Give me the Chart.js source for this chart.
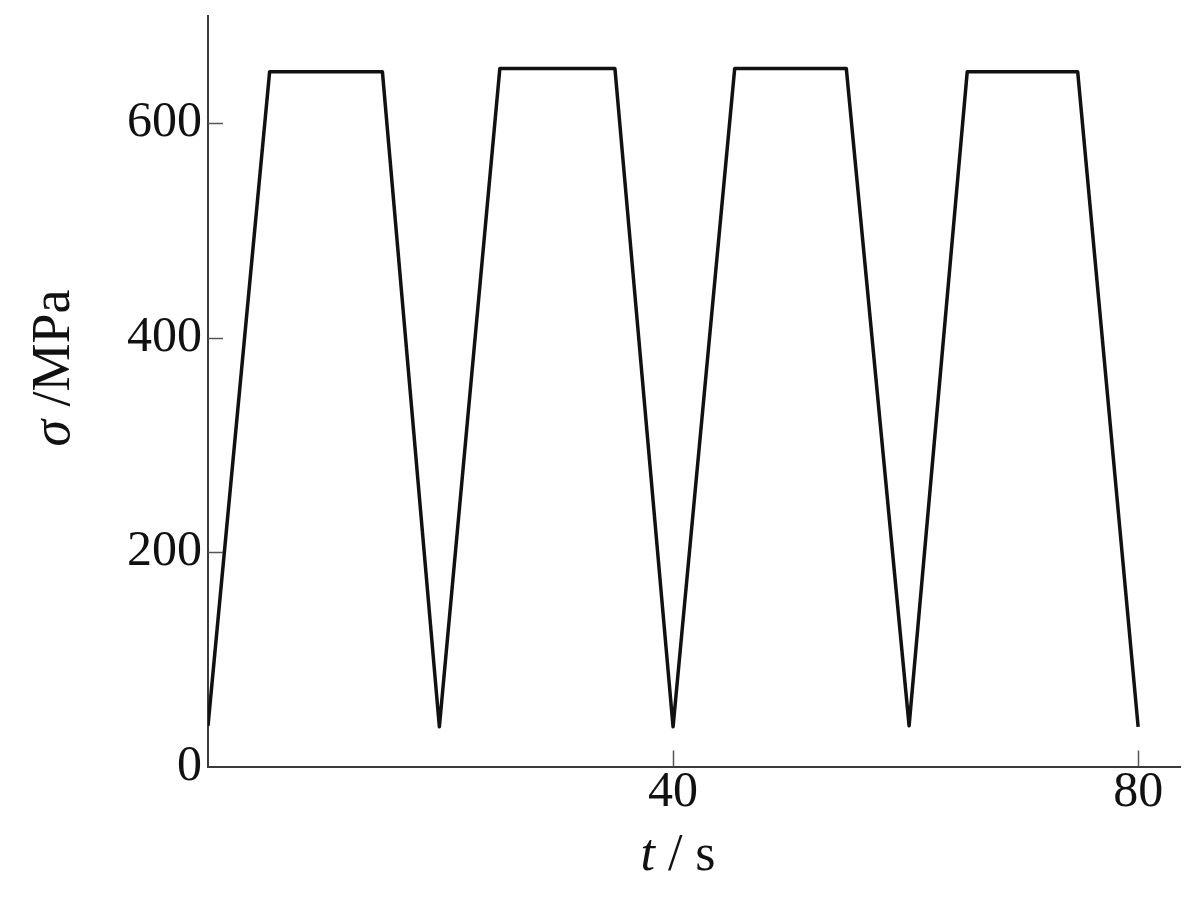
<!DOCTYPE html>
<html>
<head>
<meta charset="utf-8">
<script src="https://cdn.jsdelivr.net/npm/chart.js@4/dist/chart.umd.min.js"></script>
<style>
  html, body { margin: 0; padding: 0; background: #fff; }
  #wrap { width: 1200px; height: 900px; }
</style>
</head>
<body>
<div id="wrap"><canvas id="grafico" width="1200" height="900"></canvas></div>
<script>
// time (s) and stress (MPa)
const tiempos = [0, 5.3, 15, 19.9, 25.1, 35, 40, 45.3, 54.9, 60.3, 65.3, 74.8, 80];
const tensiones = [38, 648, 648, 37, 651, 651, 37, 651, 651, 38, 648, 648, 37];
const ticksX = [40, 80];
const ticksY = [0, 200, 400, 600];
const tituloX = ['t', ' / s'];
const tituloY = ['σ', ' /MPa'];

const fuente = '"Liberation Serif", "Times New Roman", serif';
const colorEje = '#3a3a3a';

// inner tick marks and axis titles
const extras = {
    id: 'extras',
    afterDraw(chart) {
        const ctx = chart.ctx;
        const sx = chart.scales.x, sy = chart.scales.y;
        const area = chart.chartArea;
        ctx.save();
        ctx.strokeStyle = '#555';
        ctx.lineWidth = 1.5;
        ticksY.forEach(v => {
            if (v === 0) return;
            const y = Math.round(sy.getPixelForValue(v)) + 0.5;
            ctx.beginPath();
            ctx.moveTo(area.left, y);
            ctx.lineTo(area.left + 15, y);
            ctx.stroke();
        });
        ticksX.forEach(v => {
            const x = Math.round(sx.getPixelForValue(v)) + 0.5;
            ctx.beginPath();
            ctx.moveTo(x, area.bottom);
            ctx.lineTo(x, area.bottom - 16);
            ctx.stroke();
        });

        ctx.fillStyle = '#111';
        ctx.textBaseline = 'middle';
        ctx.textAlign = 'left';
        // x title
        ctx.font = 'italic 52px ' + fuente;
        const w1 = ctx.measureText(tituloX[0]).width;
        ctx.font = '52px ' + fuente;
        const w2 = ctx.measureText(tituloX[1]).width;
        let x0 = 678 - (w1 + w2) / 2;
        ctx.font = 'italic 52px ' + fuente;
        ctx.fillText(tituloX[0], x0, 856);
        ctx.font = '52px ' + fuente;
        ctx.fillText(tituloX[1], x0 + w1, 856);

        // y title, rotated
        ctx.translate(55, 368);
        ctx.rotate(-Math.PI / 2);
        ctx.font = 'italic 54px ' + fuente;
        const v1 = ctx.measureText(tituloY[0]).width;
        ctx.font = '54px ' + fuente;
        const v2 = ctx.measureText(tituloY[1]).width;
        x0 = -(v1 + v2) / 2;
        ctx.font = 'italic 54px ' + fuente;
        ctx.fillText(tituloY[0], x0, 0);
        ctx.font = '54px ' + fuente;
        ctx.fillText(tituloY[1], x0 + v1, 0);
        ctx.restore();
    }
};

const puntos = tiempos.map((t, i) => ({ x: t, y: tensiones[i] }));

new Chart(document.getElementById('grafico').getContext('2d'), {
    type: 'line',
    data: {
        datasets: [{
            data: puntos,
            borderColor: '#111',
            borderWidth: 3.5,
            borderJoinStyle: 'round',
            pointRadius: 0,
            tension: 0,
            fill: false
        }]
    },
    options: {
        responsive: false,
        animation: false,
        layout: { padding: { top: 16, right: 20, left: 0, bottom: 0 } },
        plugins: { legend: { display: false }, tooltip: { enabled: false } },
        scales: {
            x: {
                type: 'linear',
                min: 0,
                max: 83.6,
                afterBuildTicks: s => { s.ticks = ticksX.map(v => ({ value: v })); },
                afterFit: s => { s.height = 133.5; s.paddingLeft = 0; s.paddingRight = 0; },
                grid: { display: false, drawTicks: false },
                border: { display: true, color: colorEje, width: 2 },
                ticks: { color: '#111', padding: 1, maxRotation: 0, font: { family: fuente, size: 50, lineHeight: 1 } }
            },
            y: {
                type: 'linear',
                min: 0,
                max: 700,
                afterBuildTicks: s => { s.ticks = ticksY.map(v => ({ value: v })); },
                afterFit: s => { s.width = 208; s.paddingTop = 0; s.paddingBottom = 0; },
                grid: { display: false, drawTicks: false },
                border: { display: true, color: colorEje, width: 2 },
                ticks: { color: '#111', padding: 6, font: { family: fuente, size: 50, lineHeight: 1 } }
            }
        }
    },
    plugins: [extras]
});
</script>
</body>
</html>
